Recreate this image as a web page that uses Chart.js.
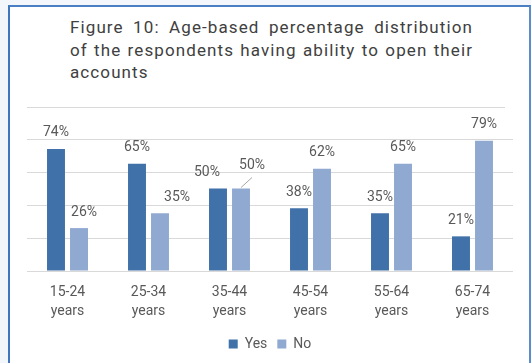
<!DOCTYPE html>
<html>
<head>
<meta charset="utf-8">
<script src="https://cdn.jsdelivr.net/npm/chart.js@4/dist/chart.umd.min.js"></script>
<style>
  html, body { margin: 0; padding: 0; }
  body {
    width: 531px; height: 363px; overflow: hidden; position: relative;
    background: #f3f7fb;
    font-family: Roboto, "Noto Sans", "DejaVu Sans", sans-serif;
  }
  .frame {
    position: absolute; left: 8px; top: 5px; width: 519px; height: 400px;
    background: #ffffff;
    border-top: 2px solid #4a7fc3;
    border-left: 2px solid #3f76bd;
    border-right: 2px solid #5b8ccb;
  }
  .title {
    position: absolute; left: 70px; top: 16px; width: 403px;
    font-family: Roboto, "Noto Sans", sans-serif;
    font-size: 17px; line-height: 22.5px; color: #404040;
    letter-spacing: 1.1px; white-space: nowrap;
  }
  .title .full { text-align: justify; text-align-last: justify; }
  .rule {
    position: absolute; left: 27px; top: 107px; width: 478px; height: 1px;
    background: #d9d9d9;
  }
  #chart { position: absolute; left: 0; top: 0; }
</style>
</head>
<body>
<div class="frame"></div>
<div class="title">
  <div class="full">Figure 10: Age-based percentage distribution</div>
  <div class="full">of the respondents having ability to open their</div>
  <div>accounts</div>
</div>
<div class="rule"></div>
<canvas id="chart" width="531" height="363"></canvas>
<script>
// Age groups (x axis), each split over two text lines
const categories = [
  ['15-24', 'years'], ['25-34', 'years'], ['35-44', 'years'],
  ['45-54', 'years'], ['55-64', 'years'], ['65-74', 'years']
];
const seriesNames = ['Yes', 'No'];
// Share of respondents, in percent
const yesValues = [74, 65, 50, 38, 35, 21];
const noValues = [26, 35, 50, 62, 65, 79];
// Value axis range (no tick labels shown)
const yMin = 0;
const yMax = 80;
const yStep = 20;

// Small nudges [dx, dy] for value labels that would otherwise crowd
const yesLabelNudge = [[0, 0], [0, 0], [-11, 0], [0, 0], [0, 0], [0, 0]];
const noLabelNudge = [[5, 0], [17, 0], [11, -7], [0, 0], [0, 0], [0, 0]];
const noLeaderIndex = 2;

const textGray = '#595959';

const valueLabels = {
  id: 'valueLabels',
  afterDatasetsDraw(chart) {
    const ctx = chart.ctx;
    ctx.save();
    ctx.font = '14px Roboto, "Noto Sans", sans-serif';
    ctx.fillStyle = textGray;
    ctx.textAlign = 'center';
    ctx.textBaseline = 'middle';
    chart.data.datasets.forEach((ds, di) => {
      const meta = chart.getDatasetMeta(di);
      const nudges = di === 0 ? yesLabelNudge : noLabelNudge;
      meta.data.forEach((bar, i) => {
        const [dx, dy] = nudges[i];
        const x = bar.x + dx;
        const y = bar.y - 16 + dy;
        if (di === 1 && i === noLeaderIndex) {
          ctx.strokeStyle = '#a6a6a6';
          ctx.lineWidth = 1;
          ctx.beginPath();
          ctx.moveTo(bar.x, bar.y - 1);
          ctx.lineTo(bar.x + 11, bar.y - 11);
          ctx.stroke();
        }
        ctx.fillText(ds.data[i] + '%', x, y);
      });
    });
    ctx.restore();
  }
};

new Chart(document.getElementById('chart'), {
  type: 'bar',
  data: {
    labels: categories,
    datasets: [
      { label: seriesNames[0], data: yesValues, backgroundColor: '#4071a8' },
      { label: seriesNames[1], data: noValues, backgroundColor: '#8fa9d1' }
    ]
  },
  options: {
    responsive: false,
    animation: false,
    devicePixelRatio: 1,
    categoryPercentage: 0.568,
    barPercentage: 0.78,
    layout: { padding: { left: 27, right: 18, top: 139, bottom: 2 } },
    scales: {
      x: {
        grid: { display: false, drawTicks: false },
        border: { display: false },
        ticks: {
          color: textGray,
          padding: 12,
          font: { size: 14, family: 'Roboto, "Noto Sans", sans-serif', lineHeight: 1.35 }
        },
        afterFit(scale) { scale.height = 56; }
      },
      y: {
        min: yMin, max: yMax,
        ticks: { display: false, stepSize: yStep },
        grid: { color: '#d9d9d9', drawTicks: false },
        border: { display: false }
      }
    },
    plugins: {
      legend: {
        position: 'bottom',
        labels: {
          boxWidth: 9, boxHeight: 9, padding: 10,
          color: textGray,
          font: { size: 14, family: 'Roboto, "Noto Sans", sans-serif' }
        }
      },
      tooltip: { enabled: false }
    }
  },
  plugins: [valueLabels]
});
</script>
</body>
</html>
